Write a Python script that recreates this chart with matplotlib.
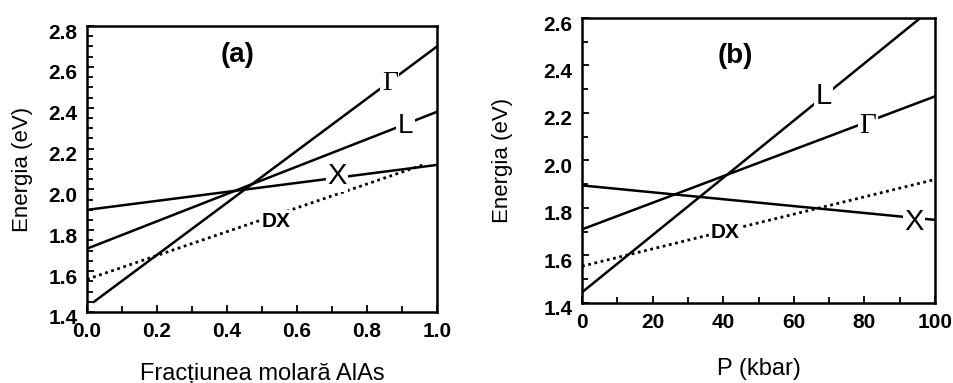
import matplotlib
matplotlib.use('Agg')
import matplotlib.pyplot as plt
import matplotlib.transforms as mtransforms
from matplotlib.ticker import MultipleLocator

plt.rcParams['font.family'] = ['Liberation Sans', 'DejaVu Sans']

# panel (a): energy vs AlAs molar fraction
gamma_a_x = [0.02, 1.0]
gamma_a_y = [1.45, 2.70]
l_a_x = [0.0, 1.0]
l_a_y = [1.71, 2.38]
x_a_x = [0.0, 1.0]
x_a_y = [1.90, 2.12]
dx_a_x = [0.0, 0.96]
dx_a_y = [1.56, 2.12]

# panel (b): energy vs pressure
gamma_b_x = [0, 100]
gamma_b_y = [1.71, 2.27]
l_b_x = [0, 100]
l_b_y = [1.445, 2.65]
x_b_x = [0, 100]
x_b_y = [1.895, 1.75]
dx_b_x = [0, 100]
dx_b_y = [1.555, 1.92]

fig = plt.figure(figsize=(9.54, 3.83), dpi=100)
ax1 = fig.add_axes([0.0912, 0.1854, 0.3669, 0.7467])
ax2 = fig.add_axes([0.6101, 0.2089, 0.3700, 0.7441])

lw = 1.8
dots = (0, (1.0, 1.3))
box = dict(facecolor='white', edgecolor='none', pad=1.0)

# (a)
ax1.plot(gamma_a_x, gamma_a_y, color='black', lw=lw)
ax1.plot(l_a_x, l_a_y, color='black', lw=lw)
ax1.plot(x_a_x, x_a_y, color='black', lw=lw)
ax1.plot(dx_a_x, dx_a_y, color='black', lw=2.0, linestyle=dots)
ax1.text(0.865, 2.52, '\u0393', family=['Liberation Serif'], fontsize=20,
         ha='center', va='center', bbox=box, zorder=5)
ax1.text(0.91, 2.31, 'L', fontsize=20, ha='center', va='center', bbox=box, zorder=5)
ax1.text(0.715, 2.065, 'X', fontsize=21, ha='center', va='center', bbox=box, zorder=5)
ax1.text(0.54, 1.845, 'DX', fontsize=15, fontweight='bold', ha='center', va='center',
         bbox=box, zorder=5)
ax1.text(0.43, 2.66, '(a)', fontsize=20, fontweight='bold', ha='center', va='center')
ax1.set_xlim(0, 1.0)
ax1.set_ylim(1.4, 2.8)
ax1.xaxis.set_major_locator(MultipleLocator(0.2))
ax1.xaxis.set_minor_locator(MultipleLocator(0.1))
ax1.yaxis.set_major_locator(MultipleLocator(0.2))
ax1.yaxis.set_minor_locator(MultipleLocator(0.05))
ax1.xaxis.set_major_formatter(plt.FormatStrFormatter('%.1f'))
ax1.yaxis.set_major_formatter(plt.FormatStrFormatter('%.1f'))
ax1.set_xlabel('Frac\u021biunea molar\u0103 AlAs', fontsize=17, labelpad=16)
ax1.set_ylabel('Energia (eV)', fontsize=16, labelpad=11)

# (b)
ax2.plot(l_b_x, l_b_y, color='black', lw=lw)
ax2.plot(gamma_b_x, gamma_b_y, color='black', lw=lw)
ax2.plot(x_b_x, x_b_y, color='black', lw=lw)
ax2.plot(dx_b_x, dx_b_y, color='black', lw=2.0, linestyle=dots)
ax2.text(68.5, 2.27, 'L', fontsize=21, ha='center', va='center', bbox=box, zorder=5)
ax2.text(81.0, 2.145, '\u0393', family=['Liberation Serif'], fontsize=21,
         ha='center', va='center', bbox=box, zorder=5)
ax2.text(94.0, 1.74, 'X', fontsize=21, ha='center', va='center', bbox=box, zorder=5)
ax2.text(40.5, 1.695, 'DX', fontsize=15, fontweight='bold', ha='center', va='center',
         bbox=box, zorder=5)
ax2.text(43.5, 2.44, '(b)', fontsize=20, fontweight='bold', ha='center', va='center')
ax2.set_xlim(0, 100)
ax2.set_ylim(1.4, 2.6)
ax2.xaxis.set_major_locator(MultipleLocator(20))
ax2.xaxis.set_minor_locator(MultipleLocator(10))
ax2.yaxis.set_major_locator(MultipleLocator(0.2))
ax2.yaxis.set_minor_locator(MultipleLocator(0.1))
ax2.yaxis.set_major_formatter(plt.FormatStrFormatter('%.1f'))
ax2.set_xlabel('P (kbar)', fontsize=17, labelpad=19)
ax2.set_ylabel('Energia (eV)', fontsize=16, labelpad=22)

shift = mtransforms.ScaledTranslation(0, -5 / 100, fig.dpi_scale_trans)
for ax in (ax1, ax2):
    for s in ax.spines.values():
        s.set_linewidth(1.8)
    ax.tick_params(which='both', direction='in', width=1.3, labelsize=15, pad=7)
    ax.tick_params(which='major', length=5)
    ax.tick_params(which='minor', length=4)
    for lab in ax.get_xticklabels() + ax.get_yticklabels():
        lab.set_fontweight('bold')
    for lab in ax.get_yticklabels():
        lab.set_transform(lab.get_transform() + shift)

fig.savefig('out.png', dpi=100)
